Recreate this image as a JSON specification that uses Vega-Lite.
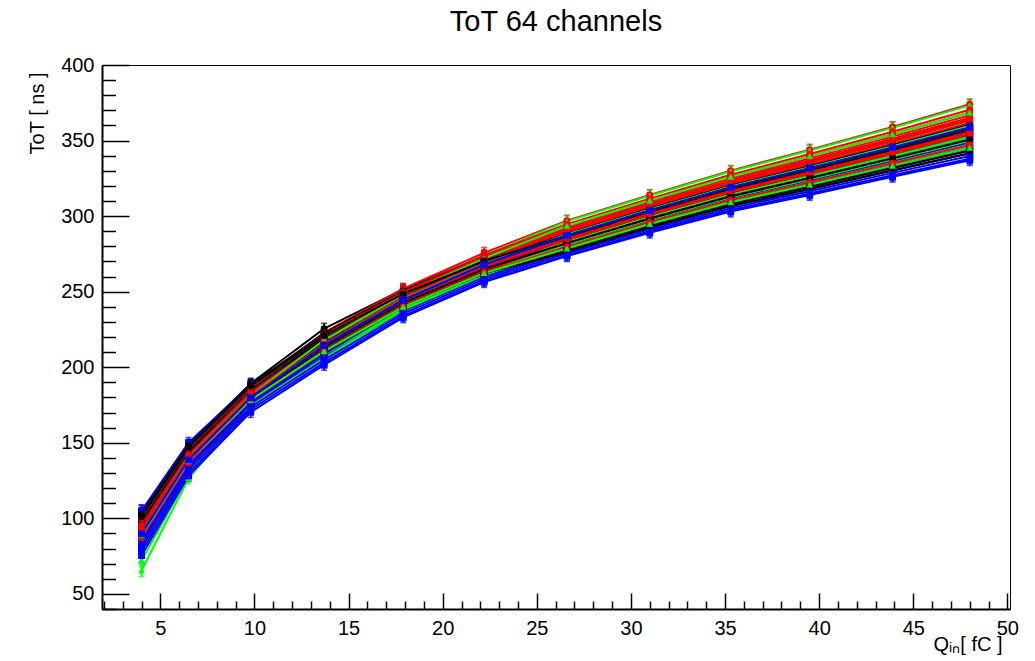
{
 "$schema": "https://vega.github.io/schema/vega-lite/v6.json",
 "width": 908,
 "height": 544,
 "autosize": {"type": "none"},
 "padding": {"left": 102, "top": 65, "right": 25, "bottom": 52},
 "background": "white",
 "title": {"text": "ToT 64 channels", "fontSize": 29, "font": "Liberation Sans", "fontWeight": "normal", "anchor": "middle", "baseline": "alphabetic", "offset": -5, "color": "black"},
 "config": {
  "view": {"stroke": "black", "strokeWidth": 1},
  "axis": {"grid": false, "domainColor": "black", "domainWidth": 2, "tickColor": "black", "tickWidth": 1.5, "labelFont": "Liberation Sans", "labelFontSize": 20, "labelColor": "black", "titleFont": "Liberation Sans", "titleFontSize": 20, "titleFontWeight": "normal", "titleColor": "black"}
 },
 "datasets": {
  "tot": [
{"c":0,"g":"k","q":4,"t":104.5,"e":4},{"c":0,"g":"k","q":6.5,"t":148.6,"e":3.5},{"c":0,"g":"k","q":9.8,"t":189.2,"e":3.5},{"c":0,"g":"k","q":13.7,"t":225.5,"e":3.5},{"c":0,"g":"k","q":17.9,"t":251.5,"e":3.5},{"c":0,"g":"k","q":22.2,"t":273.4,"e":3.5},{"c":0,"g":"k","q":26.6,"t":290.6,"e":3.5},{"c":0,"g":"k","q":31,"t":307.2,"e":3.5},{"c":0,"g":"k","q":35.3,"t":322.5,"e":3.5},{"c":0,"g":"k","q":39.5,"t":335.8,"e":3.5},{"c":0,"g":"k","q":43.9,"t":349.9,"e":3.5},{"c":0,"g":"k","q":48,"t":363.5,"e":3.5},
{"c":1,"g":"r","q":4,"t":98.8,"e":4},{"c":1,"g":"r","q":6.5,"t":145.2,"e":3.5},{"c":1,"g":"r","q":9.8,"t":185.6,"e":3.5},{"c":1,"g":"r","q":13.7,"t":222.9,"e":3.5},{"c":1,"g":"r","q":17.9,"t":252,"e":3.5},{"c":1,"g":"r","q":22.2,"t":275.7,"e":3.5},{"c":1,"g":"r","q":26.6,"t":297,"e":3.5},{"c":1,"g":"r","q":31,"t":314,"e":3.5},{"c":1,"g":"r","q":35.3,"t":330,"e":3.5},{"c":1,"g":"r","q":39.5,"t":344,"e":3.5},{"c":1,"g":"r","q":43.9,"t":359,"e":3.5},{"c":1,"g":"r","q":48,"t":374,"e":3.5},
{"c":2,"g":"g","q":4,"t":93.6,"e":4},{"c":2,"g":"g","q":6.5,"t":141.4,"e":3.5},{"c":2,"g":"g","q":9.8,"t":182.2,"e":3.5},{"c":2,"g":"g","q":13.7,"t":219.7,"e":3.5},{"c":2,"g":"g","q":17.9,"t":249.8,"e":3.5},{"c":2,"g":"g","q":22.2,"t":274.1,"e":3.5},{"c":2,"g":"g","q":26.6,"t":296.5,"e":3.5},{"c":2,"g":"g","q":31,"t":313.5,"e":3.5},{"c":2,"g":"g","q":35.3,"t":329.5,"e":3.5},{"c":2,"g":"g","q":39.5,"t":343.4,"e":3.5},{"c":2,"g":"g","q":43.9,"t":358.4,"e":3.5},{"c":2,"g":"g","q":48,"t":373.3,"e":3.5},
{"c":3,"g":"b","q":4,"t":105,"e":4},{"c":3,"g":"b","q":6.5,"t":150,"e":3.5},{"c":3,"g":"b","q":9.8,"t":188.5,"e":3.5},{"c":3,"g":"b","q":13.7,"t":221,"e":3.5},{"c":3,"g":"b","q":17.9,"t":248,"e":3.5},{"c":3,"g":"b","q":22.2,"t":270,"e":3.5},{"c":3,"g":"b","q":26.6,"t":288.3,"e":3.5},{"c":3,"g":"b","q":31,"t":305,"e":3.5},{"c":3,"g":"b","q":35.3,"t":320.3,"e":3.5},{"c":3,"g":"b","q":39.5,"t":333.2,"e":3.5},{"c":3,"g":"b","q":43.9,"t":347.1,"e":3.5},{"c":3,"g":"b","q":48,"t":360.6,"e":3.5},
{"c":4,"g":"k","q":4,"t":102.7,"e":4},{"c":4,"g":"k","q":6.5,"t":148.1,"e":3.5},{"c":4,"g":"k","q":9.8,"t":188.2,"e":3.5},{"c":4,"g":"k","q":13.7,"t":222.2,"e":3.5},{"c":4,"g":"k","q":17.9,"t":249.5,"e":3.5},{"c":4,"g":"k","q":22.2,"t":271.3,"e":3.5},{"c":4,"g":"k","q":26.6,"t":287.8,"e":3.5},{"c":4,"g":"k","q":31,"t":304.4,"e":3.5},{"c":4,"g":"k","q":35.3,"t":319.6,"e":3.5},{"c":4,"g":"k","q":39.5,"t":332.4,"e":3.5},{"c":4,"g":"k","q":43.9,"t":346.2,"e":3.5},{"c":4,"g":"k","q":48,"t":359.6,"e":3.5},
{"c":5,"g":"r","q":4,"t":97.5,"e":4},{"c":5,"g":"r","q":6.5,"t":144.3,"e":3.5},{"c":5,"g":"r","q":9.8,"t":184.8,"e":3.5},{"c":5,"g":"r","q":13.7,"t":221.4,"e":3.5},{"c":5,"g":"r","q":17.9,"t":250.5,"e":3.5},{"c":5,"g":"r","q":22.2,"t":274,"e":3.5},{"c":5,"g":"r","q":26.6,"t":294.7,"e":3.5},{"c":5,"g":"r","q":31,"t":311.6,"e":3.5},{"c":5,"g":"r","q":35.3,"t":327.4,"e":3.5},{"c":5,"g":"r","q":39.5,"t":341.1,"e":3.5},{"c":5,"g":"r","q":43.9,"t":355.8,"e":3.5},{"c":5,"g":"r","q":48,"t":370.4,"e":3.5},
{"c":6,"g":"g","q":4,"t":91,"e":4},{"c":6,"g":"g","q":6.5,"t":139.5,"e":3.5},{"c":6,"g":"g","q":9.8,"t":180.5,"e":3.5},{"c":6,"g":"g","q":13.7,"t":216,"e":3.5},{"c":6,"g":"g","q":17.9,"t":246,"e":3.5},{"c":6,"g":"g","q":22.2,"t":269.7,"e":3.5},{"c":6,"g":"g","q":26.6,"t":290.1,"e":3.5},{"c":6,"g":"g","q":31,"t":306.8,"e":3.5},{"c":6,"g":"g","q":35.3,"t":322.2,"e":3.5},{"c":6,"g":"g","q":39.5,"t":335.3,"e":3.5},{"c":6,"g":"g","q":43.9,"t":349.4,"e":3.5},{"c":6,"g":"g","q":48,"t":363.2,"e":3.5},
{"c":7,"g":"b","q":4,"t":94.9,"e":4},{"c":7,"g":"b","q":6.5,"t":142.4,"e":3.5},{"c":7,"g":"b","q":9.8,"t":183.1,"e":3.5},{"c":7,"g":"b","q":13.7,"t":216.8,"e":3.5},{"c":7,"g":"b","q":17.9,"t":245.5,"e":3.5},{"c":7,"g":"b","q":22.2,"t":268,"e":3.5},{"c":7,"g":"b","q":26.6,"t":285.5,"e":3.5},{"c":7,"g":"b","q":31,"t":302,"e":3.5},{"c":7,"g":"b","q":35.3,"t":317,"e":3.5},{"c":7,"g":"b","q":39.5,"t":329.5,"e":3.5},{"c":7,"g":"b","q":43.9,"t":343,"e":3.5},{"c":7,"g":"b","q":48,"t":356,"e":3.5},
{"c":8,"g":"k","q":4,"t":101.4,"e":4},{"c":8,"g":"k","q":6.5,"t":147.1,"e":3.5},{"c":8,"g":"k","q":9.8,"t":187.3,"e":3.5},{"c":8,"g":"k","q":13.7,"t":222.6,"e":3.5},{"c":8,"g":"k","q":17.9,"t":250.5,"e":3.5},{"c":8,"g":"k","q":22.2,"t":273,"e":3.5},{"c":8,"g":"k","q":26.6,"t":291.3,"e":3.5},{"c":8,"g":"k","q":31,"t":308,"e":3.5},{"c":8,"g":"k","q":35.3,"t":323.5,"e":3.5},{"c":8,"g":"k","q":39.5,"t":336.8,"e":3.5},{"c":8,"g":"k","q":43.9,"t":351,"e":3.5},{"c":8,"g":"k","q":48,"t":365,"e":3.5},
{"c":9,"g":"r","q":4,"t":96.2,"e":4},{"c":9,"g":"r","q":6.5,"t":143.3,"e":3.5},{"c":9,"g":"r","q":9.8,"t":183.9,"e":3.5},{"c":9,"g":"r","q":13.7,"t":220.3,"e":3.5},{"c":9,"g":"r","q":17.9,"t":249.5,"e":3.5},{"c":9,"g":"r","q":22.2,"t":273,"e":3.5},{"c":9,"g":"r","q":26.6,"t":293.6,"e":3.5},{"c":9,"g":"r","q":31,"t":310.4,"e":3.5},{"c":9,"g":"r","q":35.3,"t":326.1,"e":3.5},{"c":9,"g":"r","q":39.5,"t":339.7,"e":3.5},{"c":9,"g":"r","q":43.9,"t":354.2,"e":3.5},{"c":9,"g":"r","q":48,"t":368.6,"e":3.5},
{"c":10,"g":"g","q":4,"t":89.7,"e":4},{"c":10,"g":"g","q":6.5,"t":138.6,"e":3.5},{"c":10,"g":"g","q":9.8,"t":179.7,"e":3.5},{"c":10,"g":"g","q":13.7,"t":214.1,"e":3.5},{"c":10,"g":"g","q":17.9,"t":244,"e":3.5},{"c":10,"g":"g","q":22.2,"t":267.3,"e":3.5},{"c":10,"g":"g","q":26.6,"t":286.7,"e":3.5},{"c":10,"g":"g","q":31,"t":303.2,"e":3.5},{"c":10,"g":"g","q":35.3,"t":318.3,"e":3.5},{"c":10,"g":"g","q":39.5,"t":331,"e":3.5},{"c":10,"g":"g","q":43.9,"t":344.6,"e":3.5},{"c":10,"g":"g","q":48,"t":357.8,"e":3.5},
{"c":11,"g":"b","q":4,"t":93.6,"e":4},{"c":11,"g":"b","q":6.5,"t":141.4,"e":3.5},{"c":11,"g":"b","q":9.8,"t":182.2,"e":3.5},{"c":11,"g":"b","q":13.7,"t":216.4,"e":3.5},{"c":11,"g":"b","q":17.9,"t":245.5,"e":3.5},{"c":11,"g":"b","q":22.2,"t":268.3,"e":3.5},{"c":11,"g":"b","q":26.6,"t":286.7,"e":3.5},{"c":11,"g":"b","q":31,"t":303.2,"e":3.5},{"c":11,"g":"b","q":35.3,"t":318.3,"e":3.5},{"c":11,"g":"b","q":39.5,"t":331,"e":3.5},{"c":11,"g":"b","q":43.9,"t":344.6,"e":3.5},{"c":11,"g":"b","q":48,"t":357.8,"e":3.5},
{"c":12,"g":"k","q":4,"t":100.1,"e":4},{"c":12,"g":"k","q":6.5,"t":146.2,"e":3.5},{"c":12,"g":"k","q":9.8,"t":186.5,"e":3.5},{"c":12,"g":"k","q":13.7,"t":219.9,"e":3.5},{"c":12,"g":"k","q":17.9,"t":247.5,"e":3.5},{"c":12,"g":"k","q":22.2,"t":269.3,"e":3.5},{"c":12,"g":"k","q":26.6,"t":285.5,"e":3.5},{"c":12,"g":"k","q":31,"t":302,"e":3.5},{"c":12,"g":"k","q":35.3,"t":317,"e":3.5},{"c":12,"g":"k","q":39.5,"t":329.5,"e":3.5},{"c":12,"g":"k","q":43.9,"t":343,"e":3.5},{"c":12,"g":"k","q":48,"t":356,"e":3.5},
{"c":13,"g":"r","q":4,"t":96.6,"e":4},{"c":13,"g":"r","q":6.5,"t":143,"e":3.5},{"c":13,"g":"r","q":9.8,"t":184.3,"e":3.5},{"c":13,"g":"r","q":13.7,"t":219.5,"e":3.5},{"c":13,"g":"r","q":17.9,"t":248.5,"e":3.5},{"c":13,"g":"r","q":22.2,"t":271.7,"e":3.5},{"c":13,"g":"r","q":26.6,"t":291.3,"e":3.5},{"c":13,"g":"r","q":31,"t":308,"e":3.5},{"c":13,"g":"r","q":35.3,"t":323.5,"e":3.5},{"c":13,"g":"r","q":39.5,"t":336.8,"e":3.5},{"c":13,"g":"r","q":43.9,"t":351,"e":3.5},{"c":13,"g":"r","q":48,"t":365,"e":3.5},
{"c":14,"g":"g","q":4,"t":88.4,"e":4},{"c":14,"g":"g","q":6.5,"t":137.6,"e":3.5},{"c":14,"g":"g","q":9.8,"t":178.8,"e":3.5},{"c":14,"g":"g","q":13.7,"t":213,"e":3.5},{"c":14,"g":"g","q":17.9,"t":243,"e":3.5},{"c":14,"g":"g","q":22.2,"t":266.3,"e":3.5},{"c":14,"g":"g","q":26.6,"t":285.5,"e":3.5},{"c":14,"g":"g","q":31,"t":302,"e":3.5},{"c":14,"g":"g","q":35.3,"t":317,"e":3.5},{"c":14,"g":"g","q":39.5,"t":329.5,"e":3.5},{"c":14,"g":"g","q":43.9,"t":343,"e":3.5},{"c":14,"g":"g","q":48,"t":356,"e":3.5},
{"c":15,"g":"b","q":4,"t":92.3,"e":4},{"c":15,"g":"b","q":6.5,"t":140.5,"e":3.5},{"c":15,"g":"b","q":9.8,"t":181.4,"e":3.5},{"c":15,"g":"b","q":13.7,"t":214.9,"e":3.5},{"c":15,"g":"b","q":17.9,"t":244,"e":3.5},{"c":15,"g":"b","q":22.2,"t":266.7,"e":3.5},{"c":15,"g":"b","q":26.6,"t":284.4,"e":3.5},{"c":15,"g":"b","q":31,"t":300.8,"e":3.5},{"c":15,"g":"b","q":35.3,"t":315.7,"e":3.5},{"c":15,"g":"b","q":39.5,"t":328.1,"e":3.5},{"c":15,"g":"b","q":43.9,"t":341.4,"e":3.5},{"c":15,"g":"b","q":48,"t":354.2,"e":3.5},
{"c":16,"g":"k","q":4,"t":98.8,"e":4},{"c":16,"g":"k","q":6.5,"t":145.2,"e":3.5},{"c":16,"g":"k","q":9.8,"t":185.6,"e":3.5},{"c":16,"g":"k","q":13.7,"t":220.3,"e":3.5},{"c":16,"g":"k","q":17.9,"t":248.5,"e":3.5},{"c":16,"g":"k","q":22.2,"t":271,"e":3.5},{"c":16,"g":"k","q":26.6,"t":289,"e":3.5},{"c":16,"g":"k","q":31,"t":305.6,"e":3.5},{"c":16,"g":"k","q":35.3,"t":320.9,"e":3.5},{"c":16,"g":"k","q":39.5,"t":333.9,"e":3.5},{"c":16,"g":"k","q":43.9,"t":347.8,"e":3.5},{"c":16,"g":"k","q":48,"t":361.4,"e":3.5},
{"c":17,"g":"r","q":4,"t":94.9,"e":4},{"c":17,"g":"r","q":6.5,"t":142.4,"e":3.5},{"c":17,"g":"r","q":9.8,"t":183.1,"e":3.5},{"c":17,"g":"r","q":13.7,"t":219.1,"e":3.5},{"c":17,"g":"r","q":17.9,"t":248.5,"e":3.5},{"c":17,"g":"r","q":22.2,"t":272,"e":3.5},{"c":17,"g":"r","q":26.6,"t":292.4,"e":3.5},{"c":17,"g":"r","q":31,"t":309.2,"e":3.5},{"c":17,"g":"r","q":35.3,"t":324.8,"e":3.5},{"c":17,"g":"r","q":39.5,"t":338.2,"e":3.5},{"c":17,"g":"r","q":43.9,"t":352.6,"e":3.5},{"c":17,"g":"r","q":48,"t":366.8,"e":3.5},
{"c":18,"g":"g","q":4,"t":87.1,"e":4},{"c":18,"g":"g","q":6.5,"t":136.7,"e":3.5},{"c":18,"g":"g","q":9.8,"t":178,"e":3.5},{"c":18,"g":"g","q":13.7,"t":211.4,"e":3.5},{"c":18,"g":"g","q":17.9,"t":241.5,"e":3.5},{"c":18,"g":"g","q":22.2,"t":264.7,"e":3.5},{"c":18,"g":"g","q":26.6,"t":283.2,"e":3.5},{"c":18,"g":"g","q":31,"t":299.6,"e":3.5},{"c":18,"g":"g","q":35.3,"t":314.4,"e":3.5},{"c":18,"g":"g","q":39.5,"t":326.6,"e":3.5},{"c":18,"g":"g","q":43.9,"t":339.8,"e":3.5},{"c":18,"g":"g","q":48,"t":352.4,"e":3.5},
{"c":19,"g":"b","q":4,"t":91,"e":4},{"c":19,"g":"b","q":6.5,"t":139.5,"e":3.5},{"c":19,"g":"b","q":9.8,"t":180.5,"e":3.5},{"c":19,"g":"b","q":13.7,"t":214.5,"e":3.5},{"c":19,"g":"b","q":17.9,"t":244,"e":3.5},{"c":19,"g":"b","q":22.2,"t":267,"e":3.5},{"c":19,"g":"b","q":26.6,"t":285,"e":3.5},{"c":19,"g":"b","q":31,"t":301.4,"e":3.5},{"c":19,"g":"b","q":35.3,"t":316.4,"e":3.5},{"c":19,"g":"b","q":39.5,"t":328.8,"e":3.5},{"c":19,"g":"b","q":43.9,"t":342.3,"e":3.5},{"c":19,"g":"b","q":48,"t":355.1,"e":3.5},
{"c":20,"g":"k","q":4,"t":99.3,"e":4},{"c":20,"g":"k","q":6.5,"t":145.6,"e":3.5},{"c":20,"g":"k","q":9.8,"t":185.2,"e":3.5},{"c":20,"g":"k","q":13.7,"t":218.3,"e":3.5},{"c":20,"g":"k","q":17.9,"t":246,"e":3.5},{"c":20,"g":"k","q":22.2,"t":267.7,"e":3.5},{"c":20,"g":"k","q":26.6,"t":283.2,"e":3.5},{"c":20,"g":"k","q":31,"t":299.6,"e":3.5},{"c":20,"g":"k","q":35.3,"t":314.4,"e":3.5},{"c":20,"g":"k","q":39.5,"t":326.6,"e":3.5},{"c":20,"g":"k","q":43.9,"t":339.8,"e":3.5},{"c":20,"g":"k","q":48,"t":352.4,"e":3.5},
{"c":21,"g":"r","q":4,"t":93.6,"e":4},{"c":21,"g":"r","q":6.5,"t":141.4,"e":3.5},{"c":21,"g":"r","q":9.8,"t":182.2,"e":3.5},{"c":21,"g":"r","q":13.7,"t":217.6,"e":3.5},{"c":21,"g":"r","q":17.9,"t":247,"e":3.5},{"c":21,"g":"r","q":22.2,"t":270.3,"e":3.5},{"c":21,"g":"r","q":26.6,"t":290.1,"e":3.5},{"c":21,"g":"r","q":31,"t":306.8,"e":3.5},{"c":21,"g":"r","q":35.3,"t":322.2,"e":3.5},{"c":21,"g":"r","q":39.5,"t":335.3,"e":3.5},{"c":21,"g":"r","q":43.9,"t":349.4,"e":3.5},{"c":21,"g":"r","q":48,"t":363.2,"e":3.5},
{"c":22,"g":"g","q":4,"t":85.8,"e":4},{"c":22,"g":"g","q":6.5,"t":135.7,"e":3.5},{"c":22,"g":"g","q":9.8,"t":177.1,"e":3.5},{"c":22,"g":"g","q":13.7,"t":211.1,"e":3.5},{"c":22,"g":"g","q":17.9,"t":241.5,"e":3.5},{"c":22,"g":"g","q":22.2,"t":265,"e":3.5},{"c":22,"g":"g","q":26.6,"t":284.4,"e":3.5},{"c":22,"g":"g","q":31,"t":300.8,"e":3.5},{"c":22,"g":"g","q":35.3,"t":315.7,"e":3.5},{"c":22,"g":"g","q":39.5,"t":328.1,"e":3.5},{"c":22,"g":"g","q":43.9,"t":341.4,"e":3.5},{"c":22,"g":"g","q":48,"t":354.2,"e":3.5},
{"c":23,"g":"b","q":4,"t":91.3,"e":4},{"c":23,"g":"b","q":6.5,"t":139.1,"e":3.5},{"c":23,"g":"b","q":9.8,"t":180.8,"e":3.5},{"c":23,"g":"b","q":13.7,"t":213.4,"e":3.5},{"c":23,"g":"b","q":17.9,"t":242.5,"e":3.5},{"c":23,"g":"b","q":22.2,"t":265,"e":3.5},{"c":23,"g":"b","q":26.6,"t":282.1,"e":3.5},{"c":23,"g":"b","q":31,"t":298.4,"e":3.5},{"c":23,"g":"b","q":35.3,"t":313.1,"e":3.5},{"c":23,"g":"b","q":39.5,"t":325.2,"e":3.5},{"c":23,"g":"b","q":43.9,"t":338.2,"e":3.5},{"c":23,"g":"b","q":48,"t":350.6,"e":3.5},
{"c":24,"g":"k","q":4,"t":97.5,"e":4},{"c":24,"g":"k","q":6.5,"t":144.3,"e":3.5},{"c":24,"g":"k","q":9.8,"t":184.8,"e":3.5},{"c":24,"g":"k","q":13.7,"t":218.7,"e":3.5},{"c":24,"g":"k","q":17.9,"t":247,"e":3.5},{"c":24,"g":"k","q":22.2,"t":269.3,"e":3.5},{"c":24,"g":"k","q":26.6,"t":286.7,"e":3.5},{"c":24,"g":"k","q":31,"t":303.2,"e":3.5},{"c":24,"g":"k","q":35.3,"t":318.3,"e":3.5},{"c":24,"g":"k","q":39.5,"t":331,"e":3.5},{"c":24,"g":"k","q":43.9,"t":344.6,"e":3.5},{"c":24,"g":"k","q":48,"t":357.8,"e":3.5},
{"c":25,"g":"r","q":4,"t":93.9,"e":4},{"c":25,"g":"r","q":6.5,"t":141.8,"e":3.5},{"c":25,"g":"r","q":9.8,"t":181.9,"e":3.5},{"c":25,"g":"r","q":13.7,"t":217.2,"e":3.5},{"c":25,"g":"r","q":17.9,"t":246.5,"e":3.5},{"c":25,"g":"r","q":22.2,"t":269.7,"e":3.5},{"c":25,"g":"r","q":26.6,"t":289,"e":3.5},{"c":25,"g":"r","q":31,"t":305.6,"e":3.5},{"c":25,"g":"r","q":35.3,"t":320.9,"e":3.5},{"c":25,"g":"r","q":39.5,"t":333.9,"e":3.5},{"c":25,"g":"r","q":43.9,"t":347.8,"e":3.5},{"c":25,"g":"r","q":48,"t":361.4,"e":3.5},
{"c":26,"g":"g","q":4,"t":86.2,"e":4},{"c":26,"g":"g","q":6.5,"t":135.3,"e":3.5},{"c":26,"g":"g","q":9.8,"t":177.5,"e":3.5},{"c":26,"g":"g","q":13.7,"t":210.3,"e":3.5},{"c":26,"g":"g","q":17.9,"t":240.5,"e":3.5},{"c":26,"g":"g","q":22.2,"t":263.7,"e":3.5},{"c":26,"g":"g","q":26.6,"t":282.1,"e":3.5},{"c":26,"g":"g","q":31,"t":298.4,"e":3.5},{"c":26,"g":"g","q":35.3,"t":313.1,"e":3.5},{"c":26,"g":"g","q":39.5,"t":325.2,"e":3.5},{"c":26,"g":"g","q":43.9,"t":338.2,"e":3.5},{"c":26,"g":"g","q":48,"t":350.6,"e":3.5},
{"c":27,"g":"b","q":4,"t":89.7,"e":4},{"c":27,"g":"b","q":6.5,"t":138.6,"e":3.5},{"c":27,"g":"b","q":9.8,"t":179.7,"e":3.5},{"c":27,"g":"b","q":13.7,"t":213,"e":3.5},{"c":27,"g":"b","q":17.9,"t":242.5,"e":3.5},{"c":27,"g":"b","q":22.2,"t":265.3,"e":3.5},{"c":27,"g":"b","q":26.6,"t":283.2,"e":3.5},{"c":27,"g":"b","q":31,"t":299.6,"e":3.5},{"c":27,"g":"b","q":35.3,"t":314.4,"e":3.5},{"c":27,"g":"b","q":39.5,"t":326.6,"e":3.5},{"c":27,"g":"b","q":43.9,"t":339.8,"e":3.5},{"c":27,"g":"b","q":48,"t":352.4,"e":3.5},
{"c":28,"g":"k","q":4,"t":96.2,"e":4},{"c":28,"g":"k","q":6.5,"t":143.3,"e":3.5},{"c":28,"g":"k","q":9.8,"t":183.9,"e":3.5},{"c":28,"g":"k","q":13.7,"t":216,"e":3.5},{"c":28,"g":"k","q":17.9,"t":244,"e":3.5},{"c":28,"g":"k","q":22.2,"t":265.7,"e":3.5},{"c":28,"g":"k","q":26.6,"t":280.9,"e":3.5},{"c":28,"g":"k","q":31,"t":297.2,"e":3.5},{"c":28,"g":"k","q":35.3,"t":311.8,"e":3.5},{"c":28,"g":"k","q":39.5,"t":323.7,"e":3.5},{"c":28,"g":"k","q":43.9,"t":336.6,"e":3.5},{"c":28,"g":"k","q":48,"t":348.8,"e":3.5},
{"c":29,"g":"r","q":4,"t":92.3,"e":4},{"c":29,"g":"r","q":6.5,"t":140.5,"e":3.5},{"c":29,"g":"r","q":9.8,"t":181.4,"e":3.5},{"c":29,"g":"r","q":13.7,"t":216,"e":3.5},{"c":29,"g":"r","q":17.9,"t":245.5,"e":3.5},{"c":29,"g":"r","q":22.2,"t":268.7,"e":3.5},{"c":29,"g":"r","q":26.6,"t":287.8,"e":3.5},{"c":29,"g":"r","q":31,"t":304.4,"e":3.5},{"c":29,"g":"r","q":35.3,"t":319.6,"e":3.5},{"c":29,"g":"r","q":39.5,"t":332.4,"e":3.5},{"c":29,"g":"r","q":43.9,"t":346.2,"e":3.5},{"c":29,"g":"r","q":48,"t":359.6,"e":3.5},
{"c":30,"g":"g","q":4,"t":84.5,"e":4},{"c":30,"g":"g","q":6.5,"t":134.8,"e":3.5},{"c":30,"g":"g","q":9.8,"t":176.3,"e":3.5},{"c":30,"g":"g","q":13.7,"t":209.1,"e":3.5},{"c":30,"g":"g","q":17.9,"t":239.5,"e":3.5},{"c":30,"g":"g","q":22.2,"t":262.7,"e":3.5},{"c":30,"g":"g","q":26.6,"t":280.9,"e":3.5},{"c":30,"g":"g","q":31,"t":297.2,"e":3.5},{"c":30,"g":"g","q":35.3,"t":311.8,"e":3.5},{"c":30,"g":"g","q":39.5,"t":323.7,"e":3.5},{"c":30,"g":"g","q":43.9,"t":336.6,"e":3.5},{"c":30,"g":"g","q":48,"t":348.8,"e":3.5},
{"c":31,"g":"b","q":4,"t":88.4,"e":4},{"c":31,"g":"b","q":6.5,"t":137.6,"e":3.5},{"c":31,"g":"b","q":9.8,"t":178.8,"e":3.5},{"c":31,"g":"b","q":13.7,"t":211.4,"e":3.5},{"c":31,"g":"b","q":17.9,"t":241,"e":3.5},{"c":31,"g":"b","q":22.2,"t":263.7,"e":3.5},{"c":31,"g":"b","q":26.6,"t":280.9,"e":3.5},{"c":31,"g":"b","q":31,"t":297.2,"e":3.5},{"c":31,"g":"b","q":35.3,"t":311.8,"e":3.5},{"c":31,"g":"b","q":39.5,"t":323.7,"e":3.5},{"c":31,"g":"b","q":43.9,"t":336.6,"e":3.5},{"c":31,"g":"b","q":48,"t":348.8,"e":3.5},
{"c":32,"g":"k","q":4,"t":96.7,"e":4},{"c":32,"g":"k","q":6.5,"t":143.8,"e":3.5},{"c":32,"g":"k","q":9.8,"t":183.5,"e":3.5},{"c":32,"g":"k","q":13.7,"t":218.3,"e":3.5},{"c":32,"g":"k","q":17.9,"t":247,"e":3.5},{"c":32,"g":"k","q":22.2,"t":269.7,"e":3.5},{"c":32,"g":"k","q":26.6,"t":288.2,"e":3.5},{"c":32,"g":"k","q":31,"t":304.9,"e":3.5},{"c":32,"g":"k","q":35.3,"t":320.1,"e":3.5},{"c":32,"g":"k","q":39.5,"t":333,"e":3.5},{"c":32,"g":"k","q":43.9,"t":346.9,"e":3.5},{"c":32,"g":"k","q":48,"t":360.3,"e":3.5},
{"c":33,"g":"r","q":4,"t":91,"e":4},{"c":33,"g":"r","q":6.5,"t":139.5,"e":3.5},{"c":33,"g":"r","q":9.8,"t":180.5,"e":3.5},{"c":33,"g":"r","q":13.7,"t":214.9,"e":3.5},{"c":33,"g":"r","q":17.9,"t":244.5,"e":3.5},{"c":33,"g":"r","q":22.2,"t":267.7,"e":3.5},{"c":33,"g":"r","q":26.6,"t":286.7,"e":3.5},{"c":33,"g":"r","q":31,"t":303.2,"e":3.5},{"c":33,"g":"r","q":35.3,"t":318.3,"e":3.5},{"c":33,"g":"r","q":39.5,"t":331,"e":3.5},{"c":33,"g":"r","q":43.9,"t":344.6,"e":3.5},{"c":33,"g":"r","q":48,"t":357.8,"e":3.5},
{"c":34,"g":"g","q":4,"t":83.2,"e":4},{"c":34,"g":"g","q":6.5,"t":133.8,"e":3.5},{"c":34,"g":"g","q":9.8,"t":175.4,"e":3.5},{"c":34,"g":"g","q":13.7,"t":209.1,"e":3.5},{"c":34,"g":"g","q":17.9,"t":240,"e":3.5},{"c":34,"g":"g","q":22.2,"t":263.7,"e":3.5},{"c":34,"g":"g","q":26.6,"t":283.2,"e":3.5},{"c":34,"g":"g","q":31,"t":299.6,"e":3.5},{"c":34,"g":"g","q":35.3,"t":314.4,"e":3.5},{"c":34,"g":"g","q":39.5,"t":326.6,"e":3.5},{"c":34,"g":"g","q":43.9,"t":339.8,"e":3.5},{"c":34,"g":"g","q":48,"t":352.4,"e":3.5},
{"c":35,"g":"b","q":4,"t":87.1,"e":4},{"c":35,"g":"b","q":6.5,"t":136.7,"e":3.5},{"c":35,"g":"b","q":9.8,"t":178,"e":3.5},{"c":35,"g":"b","q":13.7,"t":210.3,"e":3.5},{"c":35,"g":"b","q":17.9,"t":240,"e":3.5},{"c":35,"g":"b","q":22.2,"t":262.7,"e":3.5},{"c":35,"g":"b","q":26.6,"t":279.8,"e":3.5},{"c":35,"g":"b","q":31,"t":296,"e":3.5},{"c":35,"g":"b","q":35.3,"t":310.5,"e":3.5},{"c":35,"g":"b","q":39.5,"t":322.3,"e":3.5},{"c":35,"g":"b","q":43.9,"t":335,"e":3.5},{"c":35,"g":"b","q":48,"t":347,"e":3.5},
{"c":36,"g":"k","q":4,"t":94.9,"e":4},{"c":36,"g":"k","q":6.5,"t":142.4,"e":3.5},{"c":36,"g":"k","q":9.8,"t":183.1,"e":3.5},{"c":36,"g":"k","q":13.7,"t":216.4,"e":3.5},{"c":36,"g":"k","q":17.9,"t":245,"e":3.5},{"c":36,"g":"k","q":22.2,"t":267.3,"e":3.5},{"c":36,"g":"k","q":26.6,"t":284.4,"e":3.5},{"c":36,"g":"k","q":31,"t":300.8,"e":3.5},{"c":36,"g":"k","q":35.3,"t":315.7,"e":3.5},{"c":36,"g":"k","q":39.5,"t":328.1,"e":3.5},{"c":36,"g":"k","q":43.9,"t":341.4,"e":3.5},{"c":36,"g":"k","q":48,"t":354.2,"e":3.5},
{"c":37,"g":"r","q":4,"t":91.4,"e":4},{"c":37,"g":"r","q":6.5,"t":139.2,"e":3.5},{"c":37,"g":"r","q":9.8,"t":180.9,"e":3.5},{"c":37,"g":"r","q":13.7,"t":214.1,"e":3.5},{"c":37,"g":"r","q":17.9,"t":243.5,"e":3.5},{"c":37,"g":"r","q":22.2,"t":266.3,"e":3.5},{"c":37,"g":"r","q":26.6,"t":284.4,"e":3.5},{"c":37,"g":"r","q":31,"t":300.8,"e":3.5},{"c":37,"g":"r","q":35.3,"t":315.7,"e":3.5},{"c":37,"g":"r","q":39.5,"t":328.1,"e":3.5},{"c":37,"g":"r","q":43.9,"t":341.4,"e":3.5},{"c":37,"g":"r","q":48,"t":354.2,"e":3.5},
{"c":38,"g":"g","q":4,"t":83.6,"e":4},{"c":38,"g":"g","q":6.5,"t":134.2,"e":3.5},{"c":38,"g":"g","q":9.8,"t":175.8,"e":3.5},{"c":38,"g":"g","q":13.7,"t":208,"e":3.5},{"c":38,"g":"g","q":17.9,"t":238.5,"e":3.5},{"c":38,"g":"g","q":22.2,"t":261.7,"e":3.5},{"c":38,"g":"g","q":26.6,"t":279.8,"e":3.5},{"c":38,"g":"g","q":31,"t":296,"e":3.5},{"c":38,"g":"g","q":35.3,"t":310.5,"e":3.5},{"c":38,"g":"g","q":39.5,"t":322.3,"e":3.5},{"c":38,"g":"g","q":43.9,"t":335,"e":3.5},{"c":38,"g":"g","q":48,"t":347,"e":3.5},
{"c":39,"g":"b","q":4,"t":85.8,"e":4},{"c":39,"g":"b","q":6.5,"t":135.7,"e":3.5},{"c":39,"g":"b","q":9.8,"t":177.1,"e":3.5},{"c":39,"g":"b","q":13.7,"t":209.1,"e":3.5},{"c":39,"g":"b","q":17.9,"t":239,"e":3.5},{"c":39,"g":"b","q":22.2,"t":261.7,"e":3.5},{"c":39,"g":"b","q":26.6,"t":278.6,"e":3.5},{"c":39,"g":"b","q":31,"t":294.8,"e":3.5},{"c":39,"g":"b","q":35.3,"t":309.2,"e":3.5},{"c":39,"g":"b","q":39.5,"t":320.8,"e":3.5},{"c":39,"g":"b","q":43.9,"t":333.4,"e":3.5},{"c":39,"g":"b","q":48,"t":345.2,"e":3.5},
{"c":40,"g":"k","q":4,"t":93.6,"e":4},{"c":40,"g":"k","q":6.5,"t":141.4,"e":3.5},{"c":40,"g":"k","q":9.8,"t":182.2,"e":3.5},{"c":40,"g":"k","q":13.7,"t":213.7,"e":3.5},{"c":40,"g":"k","q":17.9,"t":242,"e":3.5},{"c":40,"g":"k","q":22.2,"t":263.7,"e":3.5},{"c":40,"g":"k","q":26.6,"t":278.6,"e":3.5},{"c":40,"g":"k","q":31,"t":294.8,"e":3.5},{"c":40,"g":"k","q":35.3,"t":309.2,"e":3.5},{"c":40,"g":"k","q":39.5,"t":320.8,"e":3.5},{"c":40,"g":"k","q":43.9,"t":333.4,"e":3.5},{"c":40,"g":"k","q":48,"t":345.2,"e":3.5},
{"c":41,"g":"r","q":4,"t":89.7,"e":4},{"c":41,"g":"r","q":6.5,"t":138.6,"e":3.5},{"c":41,"g":"r","q":9.8,"t":179.7,"e":3.5},{"c":41,"g":"r","q":13.7,"t":213.7,"e":3.5},{"c":41,"g":"r","q":17.9,"t":243.5,"e":3.5},{"c":41,"g":"r","q":22.2,"t":266.7,"e":3.5},{"c":41,"g":"r","q":26.6,"t":285.5,"e":3.5},{"c":41,"g":"r","q":31,"t":302,"e":3.5},{"c":41,"g":"r","q":35.3,"t":317,"e":3.5},{"c":41,"g":"r","q":39.5,"t":329.5,"e":3.5},{"c":41,"g":"r","q":43.9,"t":343,"e":3.5},{"c":41,"g":"r","q":48,"t":356,"e":3.5},
{"c":42,"g":"g","q":4,"t":81.9,"e":4},{"c":42,"g":"g","q":6.5,"t":132.9,"e":3.5},{"c":42,"g":"g","q":9.8,"t":174.6,"e":3.5},{"c":42,"g":"g","q":13.7,"t":207.6,"e":3.5},{"c":42,"g":"g","q":17.9,"t":238.5,"e":3.5},{"c":42,"g":"g","q":22.2,"t":262,"e":3.5},{"c":42,"g":"g","q":26.6,"t":281.3,"e":3.5},{"c":42,"g":"g","q":31,"t":297.7,"e":3.5},{"c":42,"g":"g","q":35.3,"t":312.4,"e":3.5},{"c":42,"g":"g","q":39.5,"t":324.4,"e":3.5},{"c":42,"g":"g","q":43.9,"t":337.4,"e":3.5},{"c":42,"g":"g","q":48,"t":349.8,"e":3.5},
{"c":43,"g":"b","q":4,"t":84.5,"e":4},{"c":43,"g":"b","q":6.5,"t":134.8,"e":3.5},{"c":43,"g":"b","q":9.8,"t":176.3,"e":3.5},{"c":43,"g":"b","q":13.7,"t":208,"e":3.5},{"c":43,"g":"b","q":17.9,"t":238,"e":3.5},{"c":43,"g":"b","q":22.2,"t":260.7,"e":3.5},{"c":43,"g":"b","q":26.6,"t":277.5,"e":3.5},{"c":43,"g":"b","q":31,"t":293.6,"e":3.5},{"c":43,"g":"b","q":35.3,"t":307.9,"e":3.5},{"c":43,"g":"b","q":39.5,"t":319.4,"e":3.5},{"c":43,"g":"b","q":43.9,"t":331.8,"e":3.5},{"c":43,"g":"b","q":48,"t":343.4,"e":3.5},
{"c":44,"g":"k","q":4,"t":94.1,"e":4},{"c":44,"g":"k","q":6.5,"t":141,"e":3.5},{"c":44,"g":"k","q":9.8,"t":182.6,"e":3.5},{"c":44,"g":"k","q":13.7,"t":216,"e":3.5},{"c":44,"g":"k","q":17.9,"t":245,"e":3.5},{"c":44,"g":"k","q":22.2,"t":267.7,"e":3.5},{"c":44,"g":"k","q":26.6,"t":285.9,"e":3.5},{"c":44,"g":"k","q":31,"t":302.5,"e":3.5},{"c":44,"g":"k","q":35.3,"t":317.6,"e":3.5},{"c":44,"g":"k","q":39.5,"t":330.2,"e":3.5},{"c":44,"g":"k","q":43.9,"t":343.8,"e":3.5},{"c":44,"g":"k","q":48,"t":356.9,"e":3.5},
{"c":45,"g":"r","q":4,"t":100.1,"e":4},{"c":45,"g":"r","q":6.5,"t":146.2,"e":3.5},{"c":45,"g":"r","q":9.8,"t":186.5,"e":3.5},{"c":45,"g":"r","q":13.7,"t":221.4,"e":3.5},{"c":45,"g":"r","q":17.9,"t":249.5,"e":3.5},{"c":45,"g":"r","q":22.2,"t":272,"e":3.5},{"c":45,"g":"r","q":26.6,"t":290.5,"e":3.5},{"c":45,"g":"r","q":31,"t":307.3,"e":3.5},{"c":45,"g":"r","q":35.3,"t":322.9,"e":3.5},{"c":45,"g":"r","q":39.5,"t":336.1,"e":3.5},{"c":45,"g":"r","q":43.9,"t":350.3,"e":3.5},{"c":45,"g":"r","q":48,"t":364.3,"e":3.5},
{"c":46,"g":"g","q":4,"t":72,"e":4},{"c":46,"g":"g","q":6.5,"t":128.5,"e":3.5},{"c":46,"g":"g","q":9.8,"t":173.5,"e":3.5},{"c":46,"g":"g","q":13.7,"t":207.2,"e":3.5},{"c":46,"g":"g","q":17.9,"t":238.5,"e":3.5},{"c":46,"g":"g","q":22.2,"t":262.3,"e":3.5},{"c":46,"g":"g","q":26.6,"t":282.1,"e":3.5},{"c":46,"g":"g","q":31,"t":298.4,"e":3.5},{"c":46,"g":"g","q":35.3,"t":313.1,"e":3.5},{"c":46,"g":"g","q":39.5,"t":325.2,"e":3.5},{"c":46,"g":"g","q":43.9,"t":338.2,"e":3.5},{"c":46,"g":"g","q":48,"t":350.6,"e":3.5},
{"c":47,"g":"b","q":4,"t":83.2,"e":4},{"c":47,"g":"b","q":6.5,"t":133.8,"e":3.5},{"c":47,"g":"b","q":9.8,"t":175.4,"e":3.5},{"c":47,"g":"b","q":13.7,"t":206.8,"e":3.5},{"c":47,"g":"b","q":17.9,"t":237,"e":3.5},{"c":47,"g":"b","q":22.2,"t":259.7,"e":3.5},{"c":47,"g":"b","q":26.6,"t":276.3,"e":3.5},{"c":47,"g":"b","q":31,"t":292.4,"e":3.5},{"c":47,"g":"b","q":35.3,"t":306.6,"e":3.5},{"c":47,"g":"b","q":39.5,"t":317.9,"e":3.5},{"c":47,"g":"b","q":43.9,"t":330.2,"e":3.5},{"c":47,"g":"b","q":48,"t":341.6,"e":3.5},
{"c":48,"g":"k","q":4,"t":92.3,"e":4},{"c":48,"g":"k","q":6.5,"t":140.5,"e":3.5},{"c":48,"g":"k","q":9.8,"t":181.4,"e":3.5},{"c":48,"g":"k","q":13.7,"t":212.2,"e":3.5},{"c":48,"g":"k","q":17.9,"t":240.5,"e":3.5},{"c":48,"g":"k","q":22.2,"t":262,"e":3.5},{"c":48,"g":"k","q":26.6,"t":276.3,"e":3.5},{"c":48,"g":"k","q":31,"t":292.4,"e":3.5},{"c":48,"g":"k","q":35.3,"t":306.6,"e":3.5},{"c":48,"g":"k","q":39.5,"t":317.9,"e":3.5},{"c":48,"g":"k","q":43.9,"t":330.2,"e":3.5},{"c":48,"g":"k","q":48,"t":341.6,"e":3.5},
{"c":49,"g":"r","q":4,"t":88.4,"e":4},{"c":49,"g":"r","q":6.5,"t":137.6,"e":3.5},{"c":49,"g":"r","q":9.8,"t":178.8,"e":3.5},{"c":49,"g":"r","q":13.7,"t":211.8,"e":3.5},{"c":49,"g":"r","q":17.9,"t":241.5,"e":3.5},{"c":49,"g":"r","q":22.2,"t":264.3,"e":3.5},{"c":49,"g":"r","q":26.6,"t":282.1,"e":3.5},{"c":49,"g":"r","q":31,"t":298.4,"e":3.5},{"c":49,"g":"r","q":35.3,"t":313.1,"e":3.5},{"c":49,"g":"r","q":39.5,"t":325.2,"e":3.5},{"c":49,"g":"r","q":43.9,"t":338.2,"e":3.5},{"c":49,"g":"r","q":48,"t":350.6,"e":3.5},
{"c":50,"g":"g","q":4,"t":65.5,"e":4},{"c":50,"g":"g","q":6.5,"t":126.5,"e":3.5},{"c":50,"g":"g","q":9.8,"t":174.5,"e":3.5},{"c":50,"g":"g","q":13.7,"t":206,"e":3.5},{"c":50,"g":"g","q":17.9,"t":238,"e":3.5},{"c":50,"g":"g","q":22.2,"t":261,"e":3.5},{"c":50,"g":"g","q":26.6,"t":279.8,"e":3.5},{"c":50,"g":"g","q":31,"t":296,"e":3.5},{"c":50,"g":"g","q":35.3,"t":310.5,"e":3.5},{"c":50,"g":"g","q":39.5,"t":322.3,"e":3.5},{"c":50,"g":"g","q":43.9,"t":335,"e":3.5},{"c":50,"g":"g","q":48,"t":347,"e":3.5},
{"c":51,"g":"b","q":4,"t":80.6,"e":4},{"c":51,"g":"b","q":6.5,"t":131.9,"e":3.5},{"c":51,"g":"b","q":9.8,"t":173.7,"e":3.5},{"c":51,"g":"b","q":13.7,"t":204.9,"e":3.5},{"c":51,"g":"b","q":17.9,"t":235.5,"e":3.5},{"c":51,"g":"b","q":22.2,"t":258.3,"e":3.5},{"c":51,"g":"b","q":26.6,"t":275.2,"e":3.5},{"c":51,"g":"b","q":31,"t":291.2,"e":3.5},{"c":51,"g":"b","q":35.3,"t":305.3,"e":3.5},{"c":51,"g":"b","q":39.5,"t":316.5,"e":3.5},{"c":51,"g":"b","q":43.9,"t":328.6,"e":3.5},{"c":51,"g":"b","q":48,"t":339.8,"e":3.5},
{"c":52,"g":"k","q":4,"t":91,"e":4},{"c":52,"g":"k","q":6.5,"t":139.5,"e":3.5},{"c":52,"g":"k","q":9.8,"t":180.5,"e":3.5},{"c":52,"g":"k","q":13.7,"t":213.4,"e":3.5},{"c":52,"g":"k","q":17.9,"t":242.5,"e":3.5},{"c":52,"g":"k","q":22.2,"t":265,"e":3.5},{"c":52,"g":"k","q":26.6,"t":282.1,"e":3.5},{"c":52,"g":"k","q":31,"t":298.4,"e":3.5},{"c":52,"g":"k","q":35.3,"t":313.1,"e":3.5},{"c":52,"g":"k","q":39.5,"t":325.2,"e":3.5},{"c":52,"g":"k","q":43.9,"t":338.2,"e":3.5},{"c":52,"g":"k","q":48,"t":350.6,"e":3.5},
{"c":53,"g":"r","q":4,"t":95.3,"e":4},{"c":53,"g":"r","q":6.5,"t":142,"e":3.5},{"c":53,"g":"r","q":9.8,"t":183.4,"e":3.5},{"c":53,"g":"r","q":13.7,"t":217.6,"e":3.5},{"c":53,"g":"r","q":17.9,"t":246.5,"e":3.5},{"c":53,"g":"r","q":22.2,"t":269.3,"e":3.5},{"c":53,"g":"r","q":26.6,"t":287.4,"e":3.5},{"c":53,"g":"r","q":31,"t":304,"e":3.5},{"c":53,"g":"r","q":35.3,"t":319.1,"e":3.5},{"c":53,"g":"r","q":39.5,"t":331.8,"e":3.5},{"c":53,"g":"r","q":43.9,"t":345.6,"e":3.5},{"c":53,"g":"r","q":48,"t":358.9,"e":3.5},
{"c":54,"g":"g","q":4,"t":91.4,"e":4},{"c":54,"g":"g","q":6.5,"t":139.9,"e":3.5},{"c":54,"g":"g","q":9.8,"t":180.1,"e":3.5},{"c":54,"g":"g","q":13.7,"t":215.3,"e":3.5},{"c":54,"g":"g","q":17.9,"t":245,"e":3.5},{"c":54,"g":"g","q":22.2,"t":268.3,"e":3.5},{"c":54,"g":"g","q":26.6,"t":287.8,"e":3.5},{"c":54,"g":"g","q":31,"t":304.4,"e":3.5},{"c":54,"g":"g","q":35.3,"t":319.6,"e":3.5},{"c":54,"g":"g","q":39.5,"t":332.4,"e":3.5},{"c":54,"g":"g","q":43.9,"t":346.2,"e":3.5},{"c":54,"g":"g","q":48,"t":359.6,"e":3.5},
{"c":55,"g":"b","q":4,"t":78,"e":4},{"c":55,"g":"b","q":6.5,"t":130,"e":3.5},{"c":55,"g":"b","q":9.8,"t":172,"e":3.5},{"c":55,"g":"b","q":13.7,"t":203,"e":3.5},{"c":55,"g":"b","q":17.9,"t":234,"e":3.5},{"c":55,"g":"b","q":22.2,"t":257,"e":3.5},{"c":55,"g":"b","q":26.6,"t":274,"e":3.5},{"c":55,"g":"b","q":31,"t":290,"e":3.5},{"c":55,"g":"b","q":35.3,"t":304,"e":3.5},{"c":55,"g":"b","q":39.5,"t":315,"e":3.5},{"c":55,"g":"b","q":43.9,"t":327,"e":3.5},{"c":55,"g":"b","q":48,"t":338,"e":3.5},
{"c":56,"g":"k","q":4,"t":89.7,"e":4},{"c":56,"g":"k","q":6.5,"t":138.6,"e":3.5},{"c":56,"g":"k","q":9.8,"t":179.7,"e":3.5},{"c":56,"g":"k","q":13.7,"t":211.1,"e":3.5},{"c":56,"g":"k","q":17.9,"t":240,"e":3.5},{"c":56,"g":"k","q":22.2,"t":262,"e":3.5},{"c":56,"g":"k","q":26.6,"t":277.5,"e":3.5},{"c":56,"g":"k","q":31,"t":293.6,"e":3.5},{"c":56,"g":"k","q":35.3,"t":307.9,"e":3.5},{"c":56,"g":"k","q":39.5,"t":319.4,"e":3.5},{"c":56,"g":"k","q":43.9,"t":331.8,"e":3.5},{"c":56,"g":"k","q":48,"t":343.4,"e":3.5},
{"c":57,"g":"r","q":4,"t":87.1,"e":4},{"c":57,"g":"r","q":6.5,"t":136.7,"e":3.5},{"c":57,"g":"r","q":9.8,"t":178,"e":3.5},{"c":57,"g":"r","q":13.7,"t":210.3,"e":3.5},{"c":57,"g":"r","q":17.9,"t":240,"e":3.5},{"c":57,"g":"r","q":22.2,"t":262.7,"e":3.5},{"c":57,"g":"r","q":26.6,"t":279.8,"e":3.5},{"c":57,"g":"r","q":31,"t":296,"e":3.5},{"c":57,"g":"r","q":35.3,"t":310.5,"e":3.5},{"c":57,"g":"r","q":39.5,"t":322.3,"e":3.5},{"c":57,"g":"r","q":43.9,"t":335,"e":3.5},{"c":57,"g":"r","q":48,"t":347,"e":3.5},
{"c":58,"g":"g","q":4,"t":92.3,"e":4},{"c":58,"g":"g","q":6.5,"t":140.5,"e":3.5},{"c":58,"g":"g","q":9.8,"t":181.4,"e":3.5},{"c":58,"g":"g","q":13.7,"t":218,"e":3.5},{"c":58,"g":"g","q":17.9,"t":248,"e":3.5},{"c":58,"g":"g","q":22.2,"t":272,"e":3.5},{"c":58,"g":"g","q":26.6,"t":293.6,"e":3.5},{"c":58,"g":"g","q":31,"t":310.4,"e":3.5},{"c":58,"g":"g","q":35.3,"t":326.1,"e":3.5},{"c":58,"g":"g","q":39.5,"t":339.7,"e":3.5},{"c":58,"g":"g","q":43.9,"t":354.2,"e":3.5},{"c":58,"g":"g","q":48,"t":368.6,"e":3.5},
{"c":59,"g":"b","q":4,"t":75.4,"e":4},{"c":59,"g":"b","q":6.5,"t":128.1,"e":3.5},{"c":59,"g":"b","q":9.8,"t":170.3,"e":3.5},{"c":59,"g":"b","q":13.7,"t":201.5,"e":3.5},{"c":59,"g":"b","q":17.9,"t":233,"e":3.5},{"c":59,"g":"b","q":22.2,"t":256.3,"e":3.5},{"c":59,"g":"b","q":26.6,"t":273.5,"e":3.5},{"c":59,"g":"b","q":31,"t":289,"e":3.5},{"c":59,"g":"b","q":35.3,"t":303,"e":3.5},{"c":59,"g":"b","q":39.5,"t":314,"e":3.5},{"c":59,"g":"b","q":43.9,"t":326,"e":3.5},{"c":59,"g":"b","q":48,"t":337,"e":3.5},
{"c":60,"g":"k","q":4,"t":101,"e":4},{"c":60,"g":"k","q":6.5,"t":146.8,"e":3.5},{"c":60,"g":"k","q":9.8,"t":187.6,"e":3.5},{"c":60,"g":"k","q":13.7,"t":221,"e":3.5},{"c":60,"g":"k","q":17.9,"t":248.5,"e":3.5},{"c":60,"g":"k","q":22.2,"t":270.3,"e":3.5},{"c":60,"g":"k","q":26.6,"t":287.1,"e":3.5},{"c":60,"g":"k","q":31,"t":303.7,"e":3.5},{"c":60,"g":"k","q":35.3,"t":318.9,"e":3.5},{"c":60,"g":"k","q":39.5,"t":331.6,"e":3.5},{"c":60,"g":"k","q":43.9,"t":345.3,"e":3.5},{"c":60,"g":"k","q":48,"t":358.5,"e":3.5},
{"c":61,"g":"r","q":4,"t":92.7,"e":4},{"c":61,"g":"r","q":6.5,"t":140.1,"e":3.5},{"c":61,"g":"r","q":9.8,"t":181,"e":3.5},{"c":61,"g":"r","q":13.7,"t":215.3,"e":3.5},{"c":61,"g":"r","q":17.9,"t":244.5,"e":3.5},{"c":61,"g":"r","q":22.2,"t":267.3,"e":3.5},{"c":61,"g":"r","q":26.6,"t":285.1,"e":3.5},{"c":61,"g":"r","q":31,"t":301.6,"e":3.5},{"c":61,"g":"r","q":35.3,"t":316.6,"e":3.5},{"c":61,"g":"r","q":39.5,"t":329,"e":3.5},{"c":61,"g":"r","q":43.9,"t":342.4,"e":3.5},{"c":61,"g":"r","q":48,"t":355.3,"e":3.5},
{"c":62,"g":"g","q":4,"t":88.8,"e":4},{"c":62,"g":"g","q":6.5,"t":138,"e":3.5},{"c":62,"g":"g","q":9.8,"t":178.4,"e":3.5},{"c":62,"g":"g","q":13.7,"t":210.7,"e":3.5},{"c":62,"g":"g","q":17.9,"t":240,"e":3.5},{"c":62,"g":"g","q":22.2,"t":262.3,"e":3.5},{"c":62,"g":"g","q":26.6,"t":278.6,"e":3.5},{"c":62,"g":"g","q":31,"t":294.8,"e":3.5},{"c":62,"g":"g","q":35.3,"t":309.2,"e":3.5},{"c":62,"g":"g","q":39.5,"t":320.8,"e":3.5},{"c":62,"g":"g","q":43.9,"t":333.4,"e":3.5},{"c":62,"g":"g","q":48,"t":345.2,"e":3.5},
{"c":63,"g":"b","q":4,"t":89.7,"e":4},{"c":63,"g":"b","q":6.5,"t":138.6,"e":3.5},{"c":63,"g":"b","q":9.8,"t":179.7,"e":3.5},{"c":63,"g":"b","q":13.7,"t":214.5,"e":3.5},{"c":63,"g":"b","q":17.9,"t":244.5,"e":3.5},{"c":63,"g":"b","q":22.2,"t":268,"e":3.5},{"c":63,"g":"b","q":26.6,"t":287.2,"e":3.5},{"c":63,"g":"b","q":31,"t":303.8,"e":3.5},{"c":63,"g":"b","q":35.3,"t":319,"e":3.5},{"c":63,"g":"b","q":39.5,"t":331.7,"e":3.5},{"c":63,"g":"b","q":43.9,"t":345.4,"e":3.5},{"c":63,"g":"b","q":48,"t":358.7,"e":3.5}
  ]
 },
 "data": {"name": "tot"},
 "encoding": {
  "x": {"field": "q", "type": "quantitative", "scale": {"domain": [1.9, 50.14], "nice": false, "zero": false},
   "axis": {"values": [2,3,4,5,6,7,8,9,10,11,12,13,14,15,16,17,18,19,20,21,22,23,24,25,26,27,28,29,30,31,32,33,34,35,36,37,38,39,40,41,42,43,44,45,46,47,48,49,50],
    "labelExpr": "datum.value % 5 === 0 ? datum.label : ''",
    "tickSize": {"condition": {"test": "datum.value % 5 === 0", "value": -16}, "value": -8},
    "labelPadding": 25, "labelFlush": false, "labelOverlap": false,
    "title": "Qᵢₙ[ fC ]", "titleX": 900, "titleY": 41, "titleAlign": "right", "titleBaseline": "alphabetic"}},
  "y": {"field": "t", "type": "quantitative", "scale": {"domain": [40, 400], "nice": false, "zero": false},
   "axis": {"values": [40,50,60,70,80,90,100,110,120,130,140,150,160,170,180,190,200,210,220,230,240,250,260,270,280,290,300,310,320,330,340,350,360,370,380,390,400],
    "labelExpr": "datum.value % 50 === 0 ? datum.label : ''",
    "tickSize": {"condition": {"test": "datum.value % 50 === 0", "value": -27}, "value": -13.5},
    "labelPadding": 35, "labelFlush": false, "labelOverlap": false,
    "title": "ToT [ ns ]", "titleX": -59, "titleY": 7, "titleAlign": "right", "titleBaseline": "alphabetic", "titleAngle": -90}},
  "color": {"field": "g", "type": "nominal", "scale": {"domain": ["k", "r", "g", "b"], "range": ["#000000", "#ff0000", "#00ff00", "#0000ff"]}, "legend": null},
  "detail": {"field": "c", "type": "nominal"}
 },
 "layer": [
  {"mark": {"type": "line", "strokeWidth": 2}},
  {"mark": {"type": "errorbar", "ticks": {"size": 6}, "thickness": 1.6}, "encoding": {"yError": {"field": "e"}}},
  {"mark": {"type": "point", "filled": true, "size": 48, "opacity": 1},
   "encoding": {"shape": {"field": "g", "type": "nominal", "scale": {"domain": ["k", "r", "g", "b"], "range": ["circle", "circle", "triangle-up", "square"]}, "legend": null}}}
 ]
}
